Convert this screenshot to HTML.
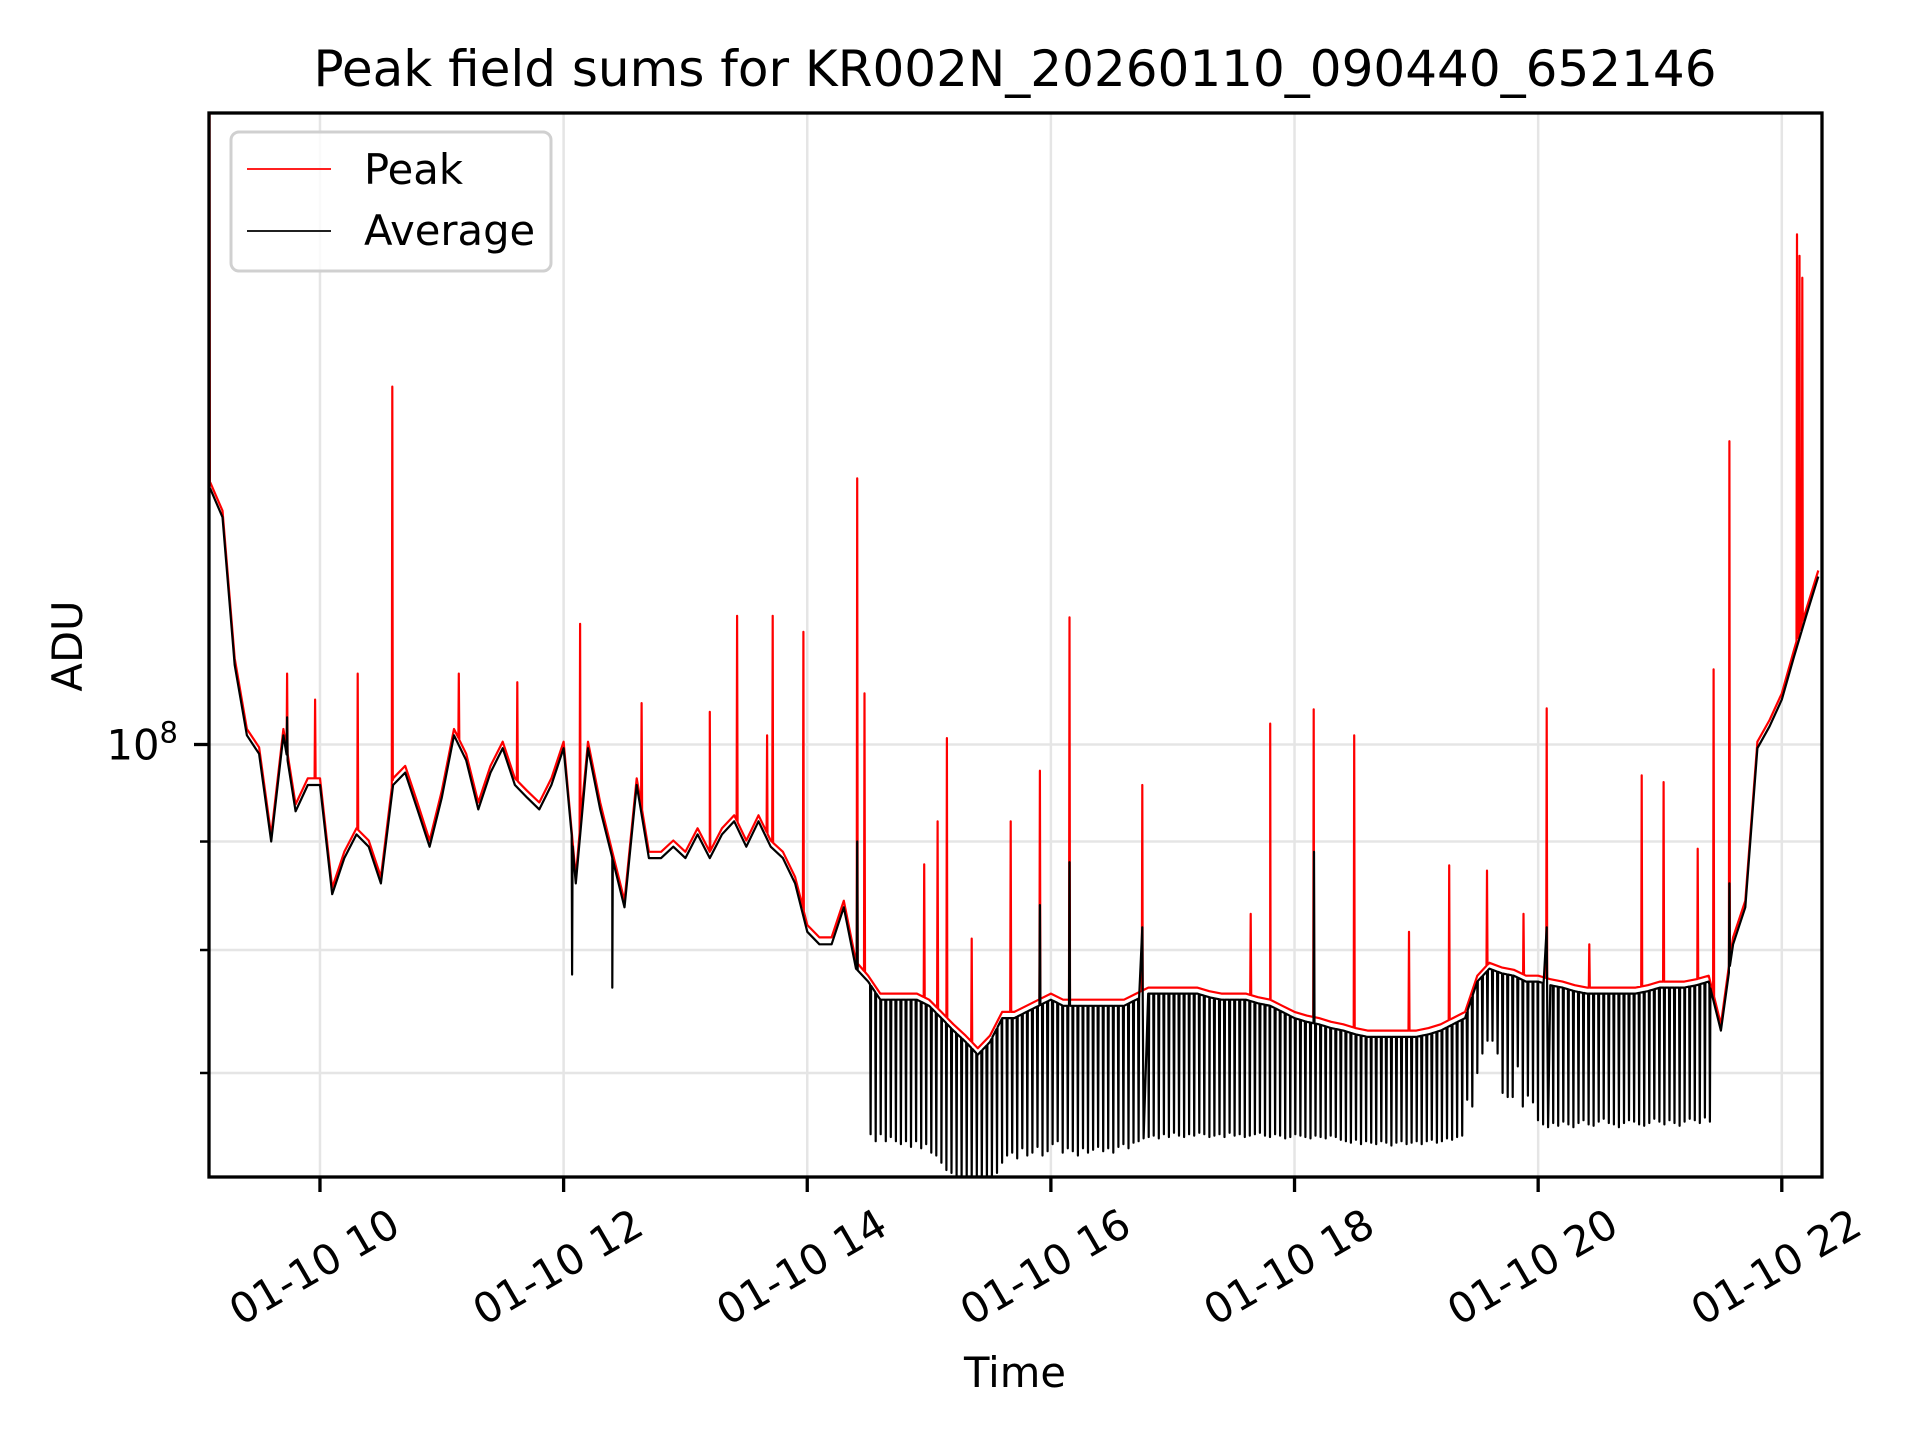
<!DOCTYPE html>
<html><head><meta charset="utf-8"><style>
html,body{margin:0;padding:0;background:#fff;}
svg{display:block;font-family:"DejaVu Sans","Liberation Sans",sans-serif;}
</style></head><body>
<svg id="chart" width="1920" height="1440" viewBox="0 0 1920 1440" xmlns="http://www.w3.org/2000/svg">
<rect x="0" y="0" width="1920" height="1440" fill="#fff"/>
<defs><clipPath id="plotclip"><rect x="209" y="113" width="1613" height="1064"/></clipPath></defs>
<g id="grid"></g>
<g id="series" clip-path="url(#plotclip)"></g>
<rect x="209" y="113" width="1613" height="1064" fill="none" stroke="#000" stroke-width="3.3"/>
<g id="ticks"></g>
<text x="1015" y="86" font-size="50" text-anchor="middle">Peak field sums for KR002N_20260110_090440_652146</text>
<text x="0" y="0" font-size="41.7" text-anchor="middle" transform="translate(82,646) rotate(-90)">ADU</text>
<text x="1015" y="1387" font-size="41.7" text-anchor="middle">Time</text>
<g>
<rect x="231" y="132" width="320" height="139" rx="8" fill="#fff" fill-opacity="0.8" stroke="#d0d0d0" stroke-width="3"/>
<line x1="247" y1="169" x2="331" y2="169" stroke="#f00" stroke-width="1.8"/>
<text x="364" y="184" font-size="41.7">Peak</text>
<line x1="247" y1="231" x2="331" y2="231" stroke="#000" stroke-width="1.8"/>
<text x="364" y="245" font-size="41.7">Average</text>
</g>
</svg>
<script>
// ---- data (values in millions of ADU, time in hours of 2026-01-10) ----
const gridStart = 9.1;
const gridStep = 0.1;
const avgBase = [132,128,109,101,99,90,101,93,95.7,95.7,85,88.4,90.7,89.5,86,95.7,97,93.2,89.5,94.4,
101,98.3,93.2,97,99.6,95.7,94.4,93.2,95.7,99.6,86,99.6,93.2,88.4,83.8,95.7,88.4,88.4,89.5,88.4,
90.7,88.4,90.7,92,89.5,92,89.5,88.4,86,81.6,80.5,80.5,83.8,78.4,77.3,75.8,75.8,75.8,75.8,75.3,
74.3,73.3,72.4,71.4,72.4,74.3,74.3,74.8,75.3,75.8,75.3,75.3,75.3,75.3,75.3,75.3,75.8,76.3,76.3,76.3,
76.3,76.3,76,75.8,75.8,75.8,75.5,75.3,74.8,74.3,74,73.8,73.5,73.3,73,72.8,72.8,72.8,72.8,72.8,
73,73.3,73.8,74.3,77.3,78.4,78,77.8,77.3,77.3,77,76.8,76.5,76.3,76.3,76.3,76.3,76.3,76.5,76.8,
76.8,76.8,77,77.3,73.3,80.5,83.8,99.6,102,105,110,115,120];
const peakBase = [132.9,128.9,109.8,101.7,99.7,90.6,101.7,93.7,96.4,96.4,85.6,89,91.3,90.1,86.6,96.4,97.7,93.9,90.1,95.1,
101.7,99,93.9,97.7,100.3,96.4,95.1,93.9,96.4,100.3,86.6,100.3,93.9,89,84.4,96.4,89,89,90.1,89,
91.3,89,91.3,92.6,90.1,92.6,90.1,89,86.6,82.2,81.1,81.1,84.4,79,77.8,76.3,76.3,76.3,76.3,75.8,
74.8,73.8,72.9,71.9,72.9,74.8,74.8,75.3,75.8,76.3,75.8,75.8,75.8,75.8,75.8,75.8,76.3,76.8,76.8,76.8,
76.8,76.8,76.5,76.3,76.3,76.3,76,75.8,75.3,74.8,74.5,74.3,74,73.8,73.5,73.3,73.3,73.3,73.3,73.3,
73.5,73.8,74.3,74.8,77.8,78.9,78.5,78.3,77.8,77.8,77.5,77.3,77,76.8,76.8,76.8,76.8,76.8,77,77.3,
77.3,77.3,77.5,77.8,73.8,81.1,84.4,100.3,102.7,105.7,110.8,115.8,120.8];
const peakEventTimes = [9.092,9.73,9.96,10.31,10.594,11.14,11.62,12.135,12.64,13.2,13.424,13.67,13.716,13.968,14.41,14.47,14.96,15.07,15.146,15.35,15.67,15.91,16.153,16.75,17.64,17.8,18.157,18.49,18.94,19.27,19.58,19.88,20.07,20.42,20.85,21.03,21.31,21.44,21.57,22.125,22.145,22.168];
const peakEventValues = [250,108,105,108,147.5,108,107,114,104.6,103.6,115,101,115,113,133.5,105.7,87.8,92,100.7,81,92,97.2,114.8,95.7,83.2,102.3,103.9,101,81.6,87.7,87.2,83.2,104,80.5,96.7,96,89.3,108.5,139,174,170,166];
const avgEventTimes = [9.089,9.73,12.07,12.4,14.41,15.91,16.153,16.75,18.16,20.07,21.57];
const avgEventValues = [135,103,77.9,76.8,90,84,88,82,89,82,86];
const dipStart = 14.52;
const dipEnd = 21.41;
const avgDipValues = [65.5,65,65.5,65,65.3,65,64.8,65,64.6,65,64.5,64.8,64.2,64,
63.5,63,62.8,62.5,62.3,62.2,62.2,62.5,62,62,62.3,62.8,
63.5,64,64.2,63.8,64.5,64,64.2,64.6,64,64.3,64.8,65,64.2,64.5,
64.3,64,64.5,64.2,64.4,64.6,64.3,64.5,64.2,64.6,64.8,64.5,64.9,65,65.2,
65.3,65.4,65.2,65.5,65.3,65.6,65.4,65.3,65.5,65.4,65.6,65.5,65.3,65.4,65.5,65.3,65.6,65.4,65.5,65.3,
65.4,65.5,65.6,65.4,65.3,65.5,65.4,65.2,65.3,65.5,65.4,65.3,65.2,65.4,65.3,65.2,65.4,65.3,65.1,
65,64.9,65.1,64.8,65,64.9,64.8,65,64.9,64.7,64.9,65,64.8,64.9,65,64.8,65,65.1,64.9,65,65.2,65.1,65.3,65.4,
68,67.5,70,71.5,72.5,72.5,71.5,68.5,68.2,
68.2,70.5,67.5,68.3,67.8,66.5,
66.2,66,66.3,66.1,66.4,66.2,66,66.3,66.5,66.2,66.1,66.4,66.6,66.3,66.2,66,66.3,66.5,66.4,66.2,
66.1,66.3,66.6,66.4,66.2,66.5,66.3,66.1,66.4,66.6,66.5,66.3,66.7,66.4];
const xTickHours = [10,12,14,16,18,20,22];
const xTickLabels = ["01-10 10","01-10 12","01-10 14","01-10 16","01-10 18","01-10 20","01-10 22"];
const yMinorTicks = [90,80,70,60];

// ---- axes ----
const T0 = 9.089, T1 = 22.33, PL = 209, PR = 1822;
function X(t){ return PL + (t - T0) / (T1 - T0) * (PR - PL); }
function Y(v){ return 744.5 - 2120.6 * Math.log10(v / 100); }
const NS = "http://www.w3.org/2000/svg";
function mk(tag, attrs, parent){ const e = document.createElementNS(NS, tag); for (const k in attrs) e.setAttribute(k, attrs[k]); parent.appendChild(e); return e; }

const grid = document.getElementById('grid');
const ticks = document.getElementById('ticks');
xTickHours.forEach((h, i) => {
  const x = X(h);
  const gl = mk('line', {x1:x, y1:113, x2:x, y2:1177, stroke:'#e5e5e5', 'stroke-width':2.5}, grid);
  
  
  const tk = mk('line', {x1:x, y1:1177, x2:x, y2:1192, stroke:'#000', 'stroke-width':3.3}, ticks);
  
  
  const lb = mk('text', {x:0, y:0, 'font-size':41.7, 'text-anchor':'middle', transform:'translate(' + (x - 4) + ',1270) rotate(-30)', 'dominant-baseline':'middle'}, ticks);
  lb.textContent = xTickLabels[i];
  
  
});
[100].concat(yMinorTicks).forEach((v, i) => {
  const y = Y(v);
  if (y > 1177) return;
  const gl = mk('line', {x1:209, y1:y, x2:1822, y2:y, stroke:'#e5e5e5', 'stroke-width':2.5}, grid);
  
  
  const tk = mk('line', {x1:(i === 0 ? 194 : 200), y1:y, x2:209, y2:y, stroke:'#000', 'stroke-width':(i === 0 ? 3.3 : 2.5)}, ticks);
  
  
});
const yl = mk('text', {x:178, y:Y(100) + 15, 'font-size':41.7, 'text-anchor':'end'}, ticks);
yl.innerHTML = '10<tspan font-size="29" dy="-17">8</tspan>';



// ---- series ----
function baseAt(base, t){
  let f = (t - gridStart) / gridStep;
  if (f <= 0) return base[0];
  if (f >= base.length - 1) return base[base.length - 1];
  const i = Math.floor(f), r = f - i;
  return base[i] * (1 - r) + base[i + 1] * r;
}
function buildPoints(base, evT, evV){
  const pts = [];
  for (let i = 0; i < base.length; i++) pts.push([gridStart + i * gridStep, base[i]]);
  for (let k = 0; k < evT.length; k++){
    const t = evT[k];
    let near = 1;
    for (let j = 0; j < evT.length; j++) if (j !== k) near = Math.min(near, Math.abs(evT[j] - t));
    if (near > 0.012){
      pts.push([t - 0.004, baseAt(base, t - 0.004)]);
      pts.push([t + 0.004, baseAt(base, t + 0.004)]);
    }
    pts.push([t, evV[k]]);
  }
  pts.sort((a, b) => a[0] - b[0]);
  return pts;
}
const peakPts = buildPoints(peakBase, peakEventTimes, peakEventValues);
const dipStep = (dipEnd - dipStart) / (avgDipValues.length - 1);
const avgT = avgEventTimes.slice(), avgV = avgEventValues.slice();
avgDipValues.forEach((v, i) => { avgT.push(dipStart + i * dipStep); avgV.push(v); });
const avgPts = buildPoints(avgBase, avgT, avgV);

const series = document.getElementById('series');
function draw(pts, color, name){
  const d = pts.map((p, i) => (i ? 'L' : 'M') + X(p[0]).toFixed(1) + ',' + Y(p[1]).toFixed(1)).join('');
  const path = mk('path', {d:d, fill:'none', stroke:color, 'stroke-width':2.2, 'stroke-linejoin':'round'}, series);
  
  
}
draw(peakPts, '#ff0000', 'peak-line');
draw(avgPts, '#000000', 'average-line');
</script>
</body></html>
